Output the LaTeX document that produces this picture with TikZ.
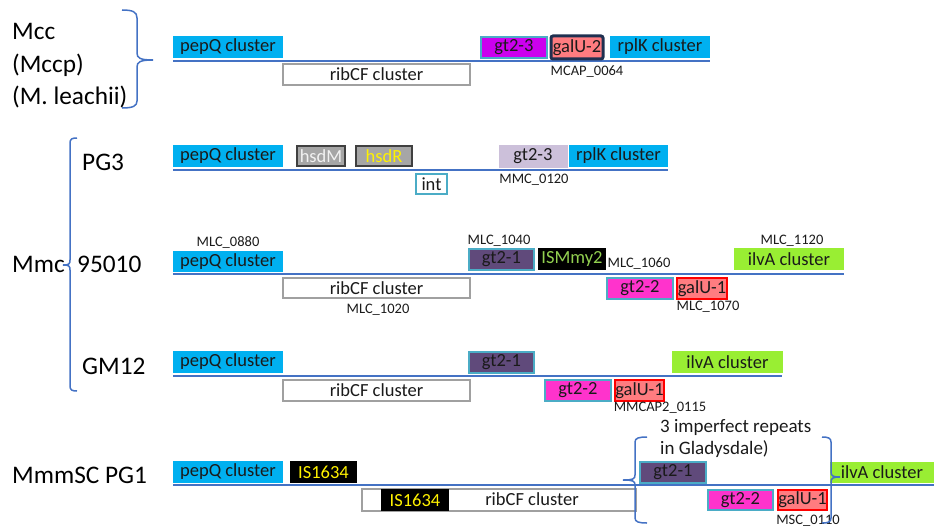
\documentclass[tikz,border=0pt]{standalone}
\usepackage{fontspec}
\setmainfont{Carlito}
\definecolor{cblue}{HTML}{00B0F0}
\definecolor{lineblue}{HTML}{4472C4}
\definecolor{teal}{HTML}{4BACC6}
\definecolor{purp}{RGB}{204,0,238}
\definecolor{lav}{HTML}{CCC0DA}
\definecolor{dpurp}{HTML}{604A7B}
\definecolor{mag}{HTML}{FF33CC}
\definecolor{salmon}{HTML}{FF7C80}
\definecolor{navy}{HTML}{1F3050}
\definecolor{lime}{RGB}{153,238,51}
\definecolor{ismgreen}{HTML}{92D050}
\definecolor{hsdgray}{HTML}{A6A6A6}
\definecolor{hsdborder}{HTML}{404040}
\definecolor{ribgray}{HTML}{A0A0A0}
\definecolor{txt}{HTML}{1A1A1A}
\newcommand{\gbox}[7]{%
  \pgfmathsetmacro{\gw}{#4-#2}\pgfmathsetmacro{\gh}{#5-#3}%
  \pgfmathsetmacro{\gx}{(#2+#4)/2}\pgfmathsetmacro{\gy}{(#3+#5)/2}%
  \node[gbase,#6,minimum width=\gw pt,minimum height=\gh pt] (#1) at (\gx,\gy) {#7};}
\tikzset{
  gbase/.style={rectangle,inner sep=0pt,outer sep=0pt,text=txt,font=\fontsize{18.5}{20}\selectfont},
  pepq/.style={fill=cblue},
  rib/.style={fill=white,draw=ribgray,line width=1.5pt},
  tealb/.style={draw=teal,line width=1.2pt},
  gtthree/.style={fill=purp,tealb},
  gtthreel/.style={fill=lav,draw=lav},
  gtone/.style={fill=dpurp,tealb},
  gttwo/.style={fill=mag,tealb},
  galu/.style={fill=salmon,draw=red,line width=1.2pt},
  galutwo/.style={fill=salmon,draw=navy,line width=3pt,rounded corners=2pt},
  ilva/.style={fill=lime},
  isblack/.style={fill=black,text=yellow},
  ismy/.style={fill=black,text=ismgreen},
  hsd/.style={fill=hsdgray,draw=hsdborder,line width=1.8pt},
  intb/.style={fill=white,draw=teal,line width=1.2pt},
  chrom/.style={draw=lineblue,line width=1.6pt},
  brace/.style={draw=lineblue,line width=1.5pt},
  big/.style={font=\fontsize{25.3}{28}\selectfont,text=black,inner sep=0pt,anchor=base west},
  small/.style={font=\fontsize{14.5}{16}\selectfont,text=txt,inner sep=0pt},
  note/.style={font=\fontsize{19}{21}\selectfont,text=txt,inner sep=0pt,anchor=west},
}
\begin{document}
\begin{tikzpicture}[x=1pt,y=-1pt]
\useasboundingbox (0,0) rectangle (934,527);
% ---------- labels ----------
\node[big] (lmcc) at (12,40) {Mcc};
\node[big] (lmccp) at (12,72) {(Mccp)};
\node[big] (lmleach) at (12,104) {(M. leachii)};
\node[big] (lpg3) at (82,170) {PG3};
\node[big] (lmmc) at (12,272) {Mmc};
\node[big] (l95010) at (77,272) {95010};
\node[big] (lgm12) at (82,374) {GM12};
\node[big] (lpg1) at (12,483) {MmmSC PG1};
% ---------- braces ----------
\draw[brace] (122,10) .. controls (133,10) and (137,12) .. (137,18) -- (137,53)
  .. controls (137,58) and (140,60) .. (153,60)
  .. controls (140,60) and (137,62) .. (137,67) -- (137,101)
  .. controls (137,106) and (133,108) .. (122,108);
\draw[brace] (77,138) .. controls (72,138) and (70,139) .. (70,143) -- (70,260)
  .. controls (70,264) and (69,265) .. (63,265)
  .. controls (69,265) and (70,266) .. (70,270) -- (70,386)
  .. controls (70,390) and (72,391) .. (77,391);
% ---------- row 1 ----------
\coordinate (c1a) at (173,61); \coordinate (c1b) at (710,61);
\draw[chrom] (c1a) -- (c1b);
\gbox{pepQa}{173}{36}{283}{58}{pepq}{pepQ cluster}
\gbox{riba}{283}{64}{470}{85}{rib}{ribCF cluster}
\gbox{gtthreea}{481}{37}{547}{58}{gtthree}{gt2-3}
\gbox{galUtwo}{551}{36}{603}{59}{galutwo}{galU-2}
\gbox{rplKa}{610}{36}{710}{58}{pepq}{rplK cluster}
\node[small] (mcap) at (587,72) {MCAP\_0064};
% ---------- PG3 ----------
\coordinate (c2a) at (173,170); \coordinate (c2b) at (668,170);
\draw[chrom] (c2a) -- (c2b);
\gbox{pepQb}{173}{145}{283}{167}{pepq}{pepQ cluster}
\gbox{hsdM}{297}{146}{345}{166}{hsd,text=white!95!black}{hsdM}
\gbox{hsdR}{356}{146}{412}{166}{hsd,text=yellow}{hsdR}
\gbox{intg}{416}{174}{447}{194}{intb}{int}
\gbox{gtthreeb}{499}{145}{567}{167}{gtthreel}{gt2-3}
\gbox{rplKb}{569}{145}{668}{167}{pepq}{rplK cluster}
\node[small] (mmc) at (534,180) {MMC\_0120};
% ---------- 95010 ----------
\coordinate (c3a) at (173,274); \coordinate (c3b) at (844,274);
\draw[chrom] (c3a) -- (c3b);
\gbox{pepQc}{173}{251}{283}{272}{pepq}{pepQ cluster}
\gbox{ribc}{283}{278}{470}{298}{rib}{ribCF cluster}
\gbox{gtonea}{469}{249}{534}{270}{gtone}{gt2-1}
\gbox{ism}{538}{248}{606}{270}{ismy}{ISMmy2}
\gbox{gttwoa}{607}{278}{673}{299}{gttwo}{gt2-2}
\gbox{galUa}{677}{278}{727}{299}{galu}{galU-1}
\gbox{ilvAa}{734}{248}{844}{270}{ilva}{ilvA cluster}
\node[small] (m0880) at (228,243) {MLC\_0880};
\node[small] (m1020) at (378,310) {MLC\_1020};
\node[small] (m1040) at (499,241) {MLC\_1040};
\node[small] (m1060) at (639,264) {MLC\_1060};
\node[small] (m1070) at (708,307) {MLC\_1070};
\node[small] (m1120) at (792,241) {MLC\_1120};
% ---------- GM12 ----------
\coordinate (c4a) at (173,376); \coordinate (c4b) at (782,376);
\draw[chrom] (c4a) -- (c4b);
\gbox{pepQd}{173}{351}{283}{373}{pepq}{pepQ cluster}
\gbox{ribd}{283}{380}{470}{401}{rib}{ribCF cluster}
\gbox{gtoneb}{469}{352}{534}{373}{gtone}{gt2-1}
\gbox{ilvAb}{672}{351}{783}{373}{ilva}{ilvA cluster}
\gbox{gttwob}{545}{380}{611}{401}{gttwo}{gt2-2}
\gbox{galUb}{615}{380}{664}{401}{galu}{galU-1}
\node[small] (mmcap) at (660,408) {MMCAP2\_0115};
% ---------- PG1 ----------
\coordinate (c5a) at (173,485); \coordinate (c5b) at (934,485);
\draw[chrom] (c5a) -- (c5b);
\gbox{pepQe}{173}{461}{283}{483}{pepq}{pepQ cluster}
\gbox{isa}{290}{461}{357}{483}{isblack}{IS1634}
\gbox{ribe}{362}{489}{636}{511}{rib}{}
\gbox{isb}{381}{489}{449}{511}{isblack}{IS1634}
\node[gbase] (ribetext) at (532,499) {ribCF cluster};
\gbox{gtonec}{640}{462}{706}{483}{gtone}{gt2-1}
\gbox{ilvAc}{830}{462}{934}{483}{ilva}{ilvA cluster}
\gbox{gttwoc}{708}{490}{773}{510}{gttwo}{gt2-2}
\gbox{galUc}{778}{490}{827}{510}{galu}{galU-1}
\node[small] (msc) at (808,521) {MSC\_0110};
\node[note] (rep1) at (660,427) {3 imperfect repeats};
\node[note] (rep2) at (660,449) {in Gladysdale)};
\draw[brace] (647,437) .. controls (639,437) and (635,438) .. (635,442) -- (635,475)
  .. controls (635,479) and (633,480) .. (623,480)
  .. controls (633,480) and (635,481) .. (635,485) -- (635,518)
  .. controls (635,522) and (639,523) .. (647,523);
\draw[brace] (822,437) .. controls (828,437) and (831,438) .. (831,442) -- (831,472)
  .. controls (831,476) and (833,477) .. (840,477)
  .. controls (833,477) and (831,478) .. (831,482) -- (831,518)
  .. controls (831,522) and (828,523) .. (822,523);
\end{tikzpicture}
\end{document}
